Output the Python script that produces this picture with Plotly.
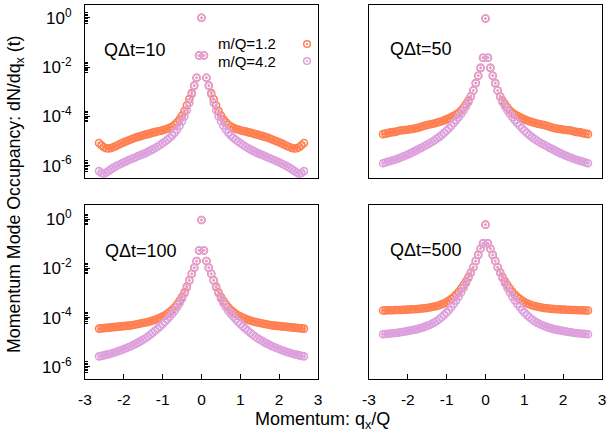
import plotly.graph_objects as go

# momentum grid q_x/Q for q >= 0 (data are symmetric in q)
q_half = [0.000, 0.063, 0.126, 0.188, 0.251, 0.314, 0.377, 0.440, 0.503, 0.565,
          0.628, 0.691, 0.754, 0.817, 0.880, 0.942, 1.005, 1.068, 1.131, 1.194,
          1.257, 1.319, 1.382, 1.445, 1.508, 1.571, 1.634, 1.696, 1.759, 1.822,
          1.885, 1.948, 2.011, 2.073, 2.136, 2.199, 2.262, 2.325, 2.388, 2.450,
          2.513, 2.576, 2.639]

# log10 of dN/dq_x, q >= 0
t10_m12 = [0.0, -1.53, -2.43, -2.75, -3.05, -3.3, -3.55, -3.78, -3.97, -4.12, -4.24, -4.34, -4.41,
           -4.46, -4.50, -4.53, -4.56, -4.59, -4.61, -4.64, -4.66, -4.69, -4.72, -4.74, -4.77,
           -4.80, -4.83, -4.86, -4.90, -4.94, -4.98, -5.02, -5.06, -5.10, -5.15, -5.20, -5.24,
           -5.28, -5.30, -5.29, -5.25, -5.17, -5.08]
t10_m42 = [0.0, -1.53, -2.43, -2.75, -3.1, -3.45, -3.75, -4.0, -4.2, -4.38, -4.53, -4.66, -4.77,
           -4.87, -4.95, -5.02, -5.09, -5.16, -5.22, -5.28, -5.34, -5.39, -5.44, -5.49, -5.53,
           -5.57, -5.61, -5.66, -5.70, -5.74, -5.78, -5.83, -5.87, -5.92, -5.97, -6.02, -6.08,
           -6.14, -6.21, -6.28, -6.33, -6.30, -6.22]
t50_m12 = [-0.03, -1.62, -2.03, -2.35, -2.65, -2.95, -3.18, -3.36, -3.5, -3.64, -3.76, -3.85, -3.92,
           -3.98, -4.03, -4.08, -4.12, -4.16, -4.20, -4.23, -4.26, -4.29, -4.31, -4.33, -4.35,
           -4.38, -4.41, -4.44, -4.47, -4.49, -4.51, -4.52, -4.54, -4.55, -4.56, -4.57, -4.60,
           -4.63, -4.64, -4.65, -4.68, -4.70, -4.72]
t50_m42 = [-0.03, -1.62, -2.03, -2.35, -2.65, -2.95, -3.2, -3.42, -3.6, -3.76, -3.9, -4.03, -4.15,
           -4.27, -4.38, -4.48, -4.58, -4.67, -4.76, -4.84, -4.91, -4.98, -5.04, -5.1, -5.15,
           -5.2, -5.26, -5.31, -5.36, -5.41, -5.46, -5.51, -5.56, -5.60, -5.64, -5.68, -5.72,
           -5.75, -5.78, -5.81, -5.84, -5.87, -5.90]
t100_m12 = [-0.03, -1.27, -1.70, -1.97, -2.22, -2.48, -2.74, -2.97, -3.16, -3.32, -3.46, -3.58, -3.68,
            -3.77, -3.85, -3.91, -3.96, -4.01, -4.05, -4.09, -4.12, -4.15, -4.18, -4.20, -4.22,
            -4.24, -4.26, -4.28, -4.30, -4.32, -4.33, -4.34, -4.35, -4.36, -4.37, -4.38, -4.39,
            -4.40, -4.41, -4.42, -4.43, -4.44, -4.45]
t100_m42 = [-0.03, -1.27, -1.70, -1.97, -2.22, -2.5, -2.78, -3.02, -3.23, -3.42, -3.58, -3.72, -3.84,
            -3.96, -4.07, -4.17, -4.27, -4.36, -4.45, -4.54, -4.62, -4.70, -4.77, -4.84, -4.90,
            -4.96, -5.02, -5.07, -5.12, -5.17, -5.21, -5.25, -5.29, -5.33, -5.36, -5.40, -5.43,
            -5.46, -5.49, -5.51, -5.54, -5.56, -5.58]
t500_m12 = [-0.22, -0.98, -1.2, -1.45, -1.7, -1.95, -2.16, -2.35, -2.52, -2.68, -2.82, -2.95, -3.06,
            -3.16, -3.24, -3.31, -3.37, -3.42, -3.46, -3.50, -3.53, -3.55, -3.57, -3.59, -3.61,
            -3.62, -3.63, -3.64, -3.65, -3.66, -3.66, -3.67, -3.67, -3.68, -3.68, -3.69, -3.69,
            -3.69, -3.70, -3.70, -3.70, -3.71, -3.71]
t500_m42 = [-0.22, -0.98, -1.2, -1.45, -1.7, -1.95, -2.18, -2.4, -2.6, -2.8, -2.98, -3.15, -3.3,
            -3.44, -3.57, -3.69, -3.8, -3.9, -3.99, -4.07, -4.14, -4.2, -4.25, -4.3, -4.34,
            -4.38, -4.41, -4.44, -4.47, -4.49, -4.51, -4.53, -4.55, -4.57, -4.59, -4.6, -4.62,
            -4.63, -4.64, -4.65, -4.66, -4.67, -4.68]

panel_labels = ["Q\u0394t=10", "Q\u0394t=50", "Q\u0394t=100", "Q\u0394t=500"]
series_names = ["m/Q=1.2", "m/Q=4.2"]
x_ticks = [-3, -2, -1, 0, 1, 2, 3]
y_tick_exp = [0, -2, -4, -6]

COL = ["#ff7f50", "#dda0dd"]
FONT = "Liberation Sans, Arial, sans-serif"

def full_q():
    return [-v for v in reversed(q_half[1:])] + q_half

def full_y(half):
    return [10 ** v for v in list(reversed(half[1:])) + half]

panels = [(t10_m12, t10_m42), (t50_m12, t50_m42), (t100_m12, t100_m42), (t500_m12, t500_m42)]

fig = go.Figure()
for i, (a, b) in enumerate(panels):
    n = "" if i == 0 else str(i + 1)
    for j, half in enumerate((a, b)):
        fig.add_trace(go.Scatter(
            x=full_q(), y=full_y(half), mode="markers", name=series_names[j],
            showlegend=False, xaxis="x" + n, yaxis="y" + n, cliponaxis=False,
            marker=dict(symbol="circle-open-dot", size=7, color=COL[j],
                        line=dict(width=1.6, color=COL[j]))))

W, H = 610, 439
L, R, T, B = 85, 8, 5, 60
pw, ph = W - L - R, H - T - B
def px(x):
    return (x - L) / pw
def py(y):
    return (H - B - y) / ph

xd = [[0, px(318)], [px(369), 1], [0, px(318)], [px(369), 1]]
yd = [[py(178), 1], [py(178), 1], [0, py(205)], [0, py(205)]]
yr = [[-6.5, 0.52], [-6.5, 0.52], [-6.5, 0.58], [-6.5, 0.58]]

minor_vals = []
for e in y_tick_exp:
    for m in (0.6, 0.7, 0.8, 0.9, 1.2, 1.4, 1.6):
        minor_vals.append(m * 10 ** e)

layout = dict(width=W, height=H, margin=dict(l=L, r=R, t=T, b=B, autoexpand=False),
              paper_bgcolor="white", plot_bgcolor="white", template="none",
              font=dict(family=FONT, size=14, color="black"))
for i in range(4):
    n = "" if i == 0 else str(i + 1)
    bottom = i >= 2
    left = i % 2 == 0
    layout["xaxis" + n] = dict(
        domain=xd[i], anchor="y" + n, range=[-3, 3], automargin=False,
        tickmode="array", tickvals=x_ticks, ticktext=[str(v) for v in x_ticks],
        showticklabels=bottom, ticks="inside" if bottom else "", ticklen=5,
        tickcolor="black", showgrid=False, zeroline=False,
        showline=True, mirror=True, linecolor="black", linewidth=1.2,
        ticklabelstandoff=6, ticklabeloverflow="allow", tickfont=dict(size=15.5))
    ydict = dict(
        domain=yd[i], anchor="x" + n, type="log", range=yr[i], automargin=False,
        tickmode="array", tickvals=[10 ** e for e in y_tick_exp],
        ticktext=["10<sup>%d</sup>" % e for e in y_tick_exp],
        showticklabels=left, ticks="inside" if left else "", ticklen=5,
        tickcolor="black", showgrid=False, zeroline=False,
        showline=True, mirror=True, linecolor="black", linewidth=1.2,
        ticklabelstandoff=9, ticklabeloverflow="allow", tickfont=dict(size=17))
    if left:
        ydict["minor"] = dict(tickmode="array", tickvals=minor_vals, ticks="inside",
                              ticklen=3, tickcolor="black", showgrid=False)
    layout["yaxis" + n] = ydict

fig.update_layout(**layout)

ann = []
lab_pos = [(102, 50), (388, 49), (103, 251), (388, 250)]
for (x, y), t in zip(lab_pos, panel_labels):
    ann.append(dict(x=px(x), y=py(y), xref="paper", yref="paper", text=t,
                    showarrow=False, xanchor="left", yanchor="middle",
                    font=dict(size=18)))
# legend (text right-aligned, symbol to the right)
leg_rows = [44, 61]
for j, yy in enumerate(leg_rows):
    ann.append(dict(x=px(278), y=py(yy), xref="paper", yref="paper", text=series_names[j],
                    showarrow=False, xanchor="right", yanchor="middle", font=dict(size=15)))
ann.append(dict(x=px(322), y=py(420), xref="paper", yref="paper",
                text="Momentum: q<sub>x</sub>/Q", showarrow=False,
                xanchor="center", yanchor="middle", font=dict(size=18)))
ann.append(dict(x=px(15), y=py(194), xref="paper", yref="paper",
                text="Momentum Mode Occupancy: dN/dq<sub>x</sub> (t)", showarrow=False,
                textangle=-90, xanchor="center", yanchor="middle", font=dict(size=17.8)))
fig.update_layout(annotations=ann)

shapes = []
for j, yy in enumerate(leg_rows):
    cx, cy = px(307), py(yy)
    shapes.append(dict(type="circle", xref="paper", yref="paper", xsizemode="pixel",
                       ysizemode="pixel", xanchor=cx, yanchor=cy, x0=-3.3, x1=3.3, y0=-3.3, y1=3.3,
                       line=dict(color=COL[j], width=1.5)))
    shapes.append(dict(type="circle", xref="paper", yref="paper", xsizemode="pixel",
                       ysizemode="pixel", xanchor=cx, yanchor=cy, x0=-0.7, x1=0.7, y0=-0.7, y1=0.7,
                       line=dict(color=COL[j], width=1), fillcolor=COL[j]))
fig.update_layout(shapes=shapes)

fig.write_html("out.html", config={"displayModeBar": False},
               post_script="document.body.style.margin='0px';document.body.style.overflow='hidden';")
